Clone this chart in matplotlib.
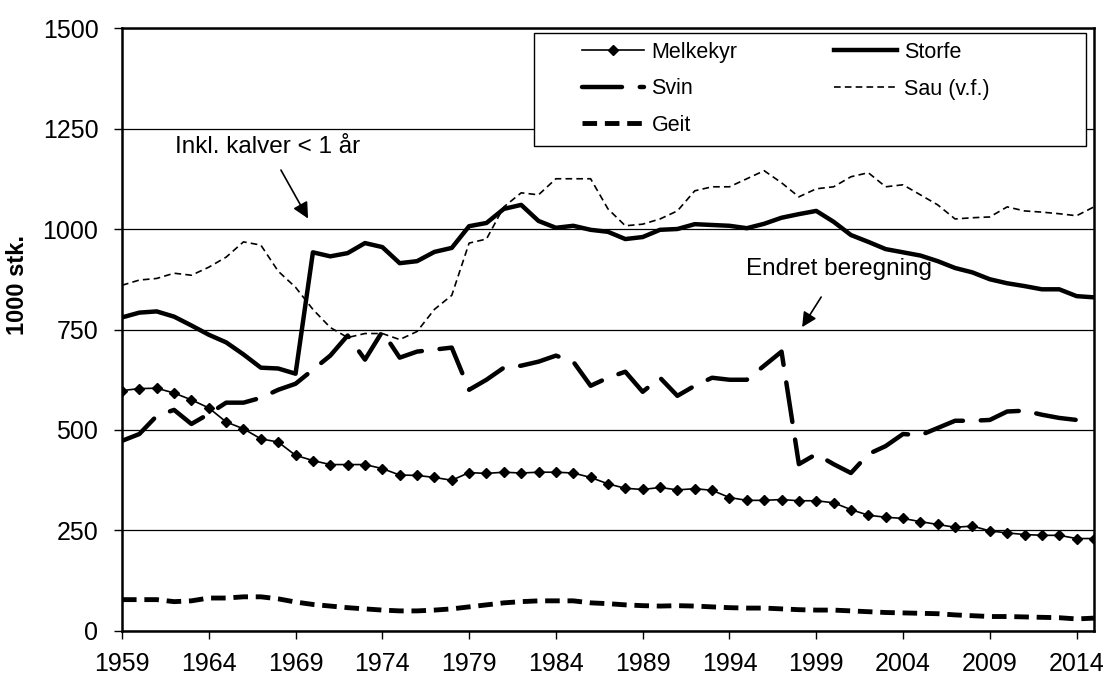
import numpy as np
import matplotlib.pyplot as plt
from matplotlib.patches import Rectangle

plt.rcParams['font.family'] = ['Liberation Sans', 'DejaVu Sans']

years = list(range(1959, 2016))

melkekyr = [598, 603, 604, 592, 575, 555, 520, 503, 478, 470,
            437, 424, 414, 414, 414, 404, 388, 387, 382, 375,
            394, 392, 395, 393, 395, 395, 393, 382, 366, 355,
            352, 357, 351, 354, 350, 332, 325, 325, 327, 324,
            324, 319, 302, 288, 283, 280, 272, 265, 258, 261,
            249, 244, 240, 238, 238, 230, 230]

storfe = [780, 792, 795, 782, 760, 737, 718, 688, 655, 653,
          640, 942, 932, 940, 965, 955, 915, 920, 943, 953,
          1007, 1015, 1050, 1060, 1020, 1003, 1008, 998, 993, 975,
          980, 998, 1000, 1012, 1010, 1008, 1002, 1013, 1028, 1037,
          1045, 1018, 985, 968, 950, 942, 934, 920, 903, 892,
          875, 865, 858, 850, 850, 833, 830]

svin = [473, 490, 535, 550, 515, 540, 568, 568, 580, 600,
        615, 650, 685, 735, 675, 745, 680, 695, 700, 705,
        600, 625, 655, 660, 670, 685, 670, 610, 630, 645,
        595, 630, 585, 610, 630, 625, 625, 660, 695, 415,
        440, 415, 393, 440, 460, 490, 487, 505, 523, 523,
        525, 546, 548, 538, 530, 525, np.nan]

sau = [860, 873, 877, 890, 885, 905, 930, 968, 960, 895,
       855, 800, 755, 730, 740, 740, 725, 745, 800, 835,
       965, 975, 1055, 1090, 1085, 1125, 1125, 1125, 1050, 1008,
       1012, 1025, 1045, 1095, 1105, 1105, 1125, 1145, 1115, 1080,
       1100, 1105, 1130, 1140, 1105, 1110, 1085, 1060, 1025, 1028,
       1030, 1055, 1045, 1042, 1038, 1033, 1055]

geit = [78, 78, 78, 73, 75, 82, 82, 85, 85, 80,
        72, 66, 62, 58, 55, 52, 50, 50, 52, 55,
        60, 65, 70, 73, 75, 75, 75, 70, 68, 65,
        63, 62, 63, 62, 60, 58, 57, 57, 55, 53,
        52, 52, 50, 48, 46, 45, 44, 43, 40, 38,
        36, 36, 35, 34, 33, 30, 32]

xticks = list(range(1959, 2015, 5))
yticks = [0, 250, 500, 750, 1000, 1250, 1500]

fig = plt.figure(figsize=(11.07, 6.75), dpi=100)
ax = fig.add_axes([0.1102, 0.0652, 0.878, 0.8933])

l_melk, = ax.plot(years, melkekyr, color='black', lw=1.2, marker='D', ms=5, label='Melkekyr')
l_storfe, = ax.plot(years, storfe, color='black', lw=3.2, label='Storfe')
l_svin, = ax.plot(years, svin, color='black', lw=3.2, dashes=(9, 4), dash_capstyle='round', label='Svin')
l_sau, = ax.plot(years, sau, color='black', lw=1.2, dashes=(4, 2.5), label='Sau (v.f.)')
l_geit, = ax.plot(years, geit, color='black', lw=3.5, dashes=(3, 1.6), label='Geit')

ax.set_xlim(1959, 2015)
ax.set_ylim(0, 1500)
ax.set_xticks(xticks)
ax.set_yticks(yticks)
ax.tick_params(axis='both', labelsize=18, direction='out', length=6, width=1)
ax.tick_params(axis='y', pad=11)
ax.tick_params(axis='x', pad=9)
ax.yaxis.grid(True, color='black', lw=0.9)
ax.set_axisbelow(True)
for s in ax.spines.values():
    s.set_linewidth(1.8)
ax.set_ylabel('1000 stk.', fontsize=17, fontweight='bold')
ax.yaxis.set_label_coords(-0.096, 0.574)

# legend box drawn separately so the entries can sit left inside a wide frame
ax.add_patch(Rectangle((534 / 1107, 1 - 146 / 675), 552 / 1107, 113 / 675,
                       transform=fig.transFigure, facecolor='white', edgecolor='black',
                       lw=1.0, zorder=4, clip_on=False))
handles = [l_melk, l_svin, l_geit, l_storfe, l_sau]
leg = ax.legend(handles, [h.get_label() for h in handles], ncol=2, loc='upper left',
                bbox_to_anchor=(582 / 1107, 1 - 42 / 675), bbox_transform=fig.transFigure,
                fontsize=15.5, frameon=False, borderpad=0, borderaxespad=0,
                handlelength=2.9, handletextpad=0.33, columnspacing=4.5, labelspacing=0.72)
leg.set_zorder(5)

ax.annotate('Inkl. kalver < 1 år', xy=(1969.8, 1020), xytext=(1967.4, 1205),
            fontsize=17.5, ha='center', va='center',
            arrowprops=dict(arrowstyle='-|>', color='black', lw=1.2, mutation_scale=24,
                            shrinkA=8))
ax.annotate('Endret beregning', xy=(1998.1, 750), xytext=(2000.3, 900),
            fontsize=17.5, ha='center', va='center',
            arrowprops=dict(arrowstyle='-|>', color='black', lw=1.2, mutation_scale=22,
                            shrinkA=12))

fig.savefig('out.png', dpi=100)
